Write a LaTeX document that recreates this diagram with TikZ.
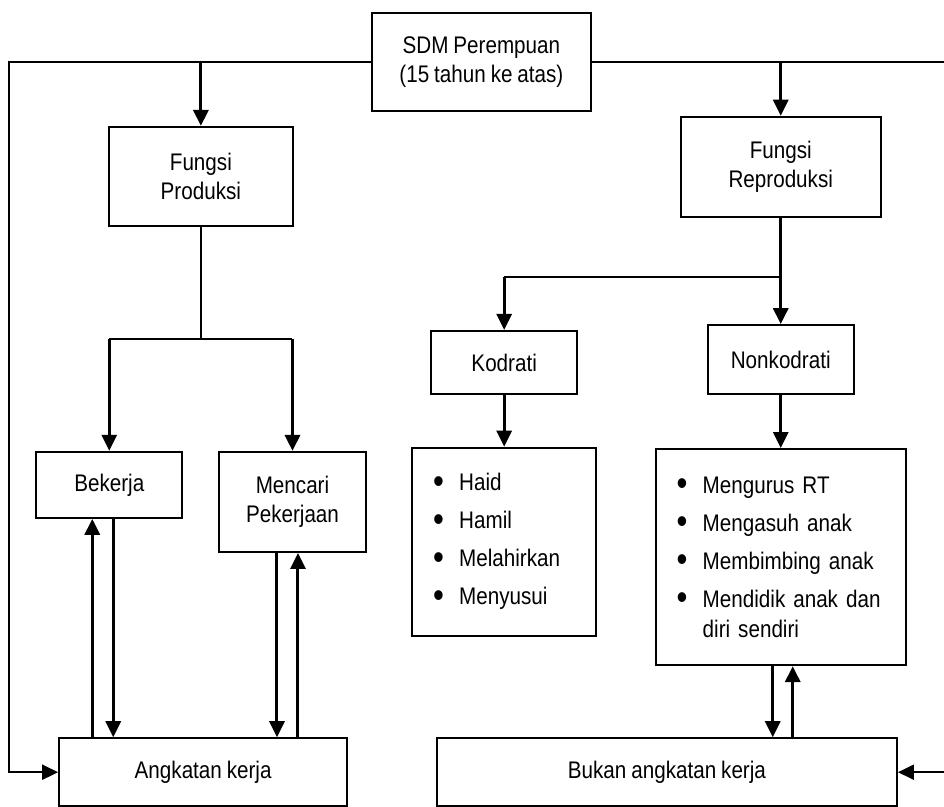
\documentclass[tikz,border=0pt]{standalone}
\usepackage{fontspec}
\setmainfont{Liberation Sans}[FakeStretch=0.86, WordSpace=0.86]
\usetikzlibrary{arrows.meta, positioning}
\tikzset{
    skema/.style={line cap=butt, line join=miter,
                  font=\fontsize{12}{14.5}\selectfont},
    kotak/.style={draw=black, line width=1pt, align=center, inner sep=2pt},
    daftar/.style={draw=black, line width=1pt, align=left, inner xsep=10.5pt},
    panah/.style={-{Triangle[length=8pt,width=7.5pt]}, line width=1.5pt},
    jalur/.style={panah, line width=1pt},
    garis/.style={line width=1pt},
}
\newcommand\butir[1]{\makebox[13pt][l]{\raisebox{-0.09em}{\scalebox{1.5}{\textbullet}}}#1}

\begin{document}
\begin{tikzpicture}[skema]
\useasboundingbox (0,0) rectangle (16.589,-14.181);

% ─── Kotak utama ────────────────────────────────────────────────────────
\node[kotak, minimum width=109.5pt, minimum height=49pt] (sdm) at (8.46,-1.09)
    {SDM Perempuan\\(15 tahun ke atas)};
\node[kotak, minimum width=92pt, minimum height=49.5pt] (produksi) at (3.53,-3.10)
    {Fungsi\\Produksi};
\node[kotak, minimum width=100pt, minimum height=50pt] (reproduksi) at (13.72,-2.93)
    {Fungsi\\Reproduksi};

% ─── Cabang produksi ────────────────────────────────────────────────────
\node[kotak, minimum width=73pt, minimum height=33pt] (bekerja) at (1.92,-8.52) {Bekerja};
\node[kotak, minimum width=73.5pt, minimum height=50pt] (mencari) at (5.14,-8.82)
    {Mencari\\Pekerjaan};
\node[kotak, minimum width=144pt, minimum height=34pt] (angkatan) at (3.57,-13.57)
    {Angkatan kerja};

% ─── Cabang reproduksi ──────────────────────────────────────────────────
\node[kotak, minimum width=73pt, minimum height=31.5pt] (kodrati) at (8.86,-6.37) {Kodrati};
\node[kotak, minimum width=73pt, minimum height=34.5pt] (nonkodrati) at (13.72,-6.32) {Nonkodrati};
\node[daftar, text width=71pt, minimum height=94pt] (kodlist) at (8.86,-9.52)
    {\butir{Haid}\\[4.5pt]\butir{Hamil}\\[4.5pt]\butir{Melahirkan}\\[4.5pt]\butir{Menyusui}};
\node[daftar, text width=104pt, minimum height=108pt] (nonlist) at (13.72,-9.79)
    {\butir{Mengurus RT}\\[4.5pt]\butir{Mengasuh anak}\\[4.5pt]\butir{Membimbing anak}\\[4.5pt]%
     \butir{Mendidik anak dan}\\[0.5pt]\hspace*{13pt}diri sendiri};
\node[kotak, minimum width=230pt, minimum height=34pt] (bukan) at (11.72,-13.57)
    {Bukan angkatan kerja};

% ─── Titik bantu ────────────────────────────────────────────────────────
\coordinate (railL) at (0.158,-1.09);
\coordinate (railR) at (16.65,-1.09);
\coordinate (prodfork) at (produksi.south |- 0,-5.96);
\coordinate (reprofork) at (reproduksi.south |- 0,-4.87);

% ─── Jalur luar ─────────────────────────────────────────────────────────
\draw[jalur] (sdm.west) -- (railL) |- (angkatan.west);
\draw[jalur] (sdm.east) -- (railR) |- (bukan.east);
\draw[panah] (produksi.north |- sdm.west) -- (produksi.north);
\draw[panah] (reproduksi.north |- sdm.east) -- (reproduksi.north);

% ─── Produksi ───────────────────────────────────────────────────────────
\draw[garis] (produksi.south) -- (prodfork);
\draw[garis] (bekerja.north |- prodfork) -- (mencari.north |- prodfork);
\draw[panah] (bekerja.north |- prodfork) -- (bekerja.north);
\draw[panah] (mencari.north |- prodfork) -- (mencari.north);

% ─── Reproduksi ─────────────────────────────────────────────────────────
\draw[panah] (reproduksi.south) -- (nonkodrati.north);
\draw[garis] (reprofork) -- (kodrati.north |- reprofork);
\draw[panah] (kodrati.north |- reprofork) -- (kodrati.north);
\draw[panah] (kodrati) -- (kodlist);
\draw[panah] (nonkodrati) -- (nonlist);

% ─── Timbal balik ───────────────────────────────────────────────────────
\draw[panah] ([xshift=-8.5pt]bekerja.south |- angkatan.north) -- ([xshift=-8.5pt]bekerja.south);
\draw[panah] ([xshift=2pt]bekerja.south) -- ([xshift=2pt]bekerja.south |- angkatan.north);
\draw[panah] ([xshift=-7.75pt]mencari.south) -- ([xshift=-7.75pt]mencari.south |- angkatan.north);
\draw[panah] ([xshift=2.75pt]mencari.south |- angkatan.north) -- ([xshift=2.75pt]mencari.south);
\draw[panah] ([xshift=-4pt]nonlist.south) -- ([xshift=-4pt]nonlist.south |- bukan.north);
\draw[panah] ([xshift=6pt]nonlist.south |- bukan.north) -- ([xshift=6pt]nonlist.south);

\end{tikzpicture}
\end{document}
